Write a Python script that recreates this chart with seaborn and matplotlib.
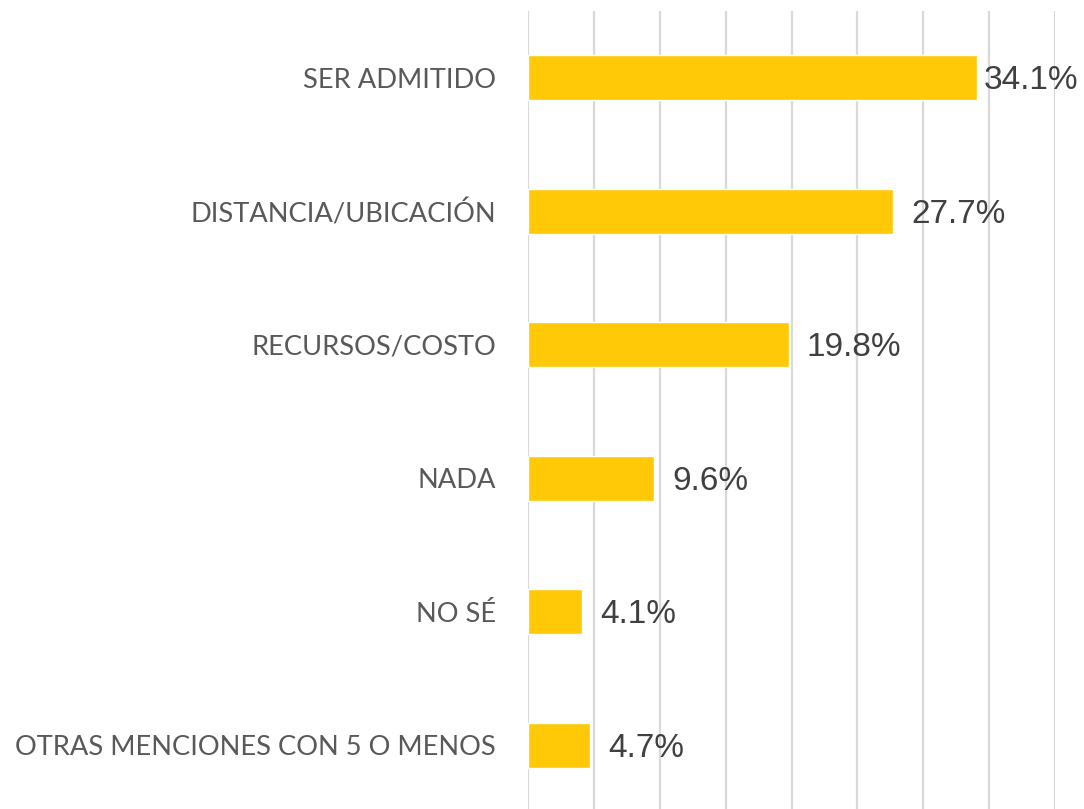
import matplotlib
matplotlib.use("Agg")
import matplotlib.pyplot as plt
import seaborn as sns
import pandas as pd

categories = [
    "SER ADMITIDO",
    "DISTANCIA/UBICACIÓN",
    "RECURSOS/COSTO",
    "NADA",
    "NO SÉ",
    "OTRAS MENCIONES CON 5 O MENOS",
]
values = [34.1, 27.7, 19.8, 9.6, 4.1, 4.7]
value_labels = ["34.1%", "27.7%", "19.8%", "9.6%", "4.1%", "4.7%"]

df = pd.DataFrame({"categoria": categories, "porcentaje": values})

sns.set_theme(style="white")
plt.rcParams["font.family"] = ["Lato", "DejaVu Sans"]

fig = plt.figure(figsize=(10.84, 8.09), dpi=100)
ax = fig.add_axes([528 / 1084, -3 / 809, (1055 - 528) / 1084, 801 / 809])

sns.barplot(data=df, y="categoria", x="porcentaje", orient="h",
            color="#FFC908", width=0.34, saturation=1, ax=ax, zorder=3)

ax.set_xlim(0, 40)
ax.set_xticks(range(0, 41, 5))
ax.set_xticklabels([])
ax.tick_params(axis="x", length=0)
ax.tick_params(axis="y", length=0, pad=23, labelsize=19.6, labelcolor="#595959")
ax.grid(axis="x", color="#D9D9D9", linewidth=1.6, zorder=0)
ax.grid(axis="y", visible=False)
for s in ax.spines.values():
    s.set_visible(False)
ax.set_xlabel("")
ax.set_ylabel("")

# value labels to the right of each bar, kept inside the figure
fig.canvas.draw()
renderer = fig.canvas.get_renderer()
px_per_unit = ax.transData.transform((1, 0))[0] - ax.transData.transform((0, 0))[0]
px_per_cat = abs(ax.transData.transform((0, 1))[1] - ax.transData.transform((0, 0))[1])
for i, (v, lab) in enumerate(zip(values, value_labels)):
    t = ax.text(v + 18 / px_per_unit, i + 3 / px_per_cat, lab, va="center", ha="left",
                fontsize=24, color="#404040", family=["Liberation Sans"],
                clip_on=False, zorder=4)
    bb = t.get_window_extent(renderer)
    limit = 1078
    if bb.x1 > limit:
        t.set_x(v + (18 - (bb.x1 - limit)) / px_per_unit)

fig.savefig("out.png", dpi=100)
